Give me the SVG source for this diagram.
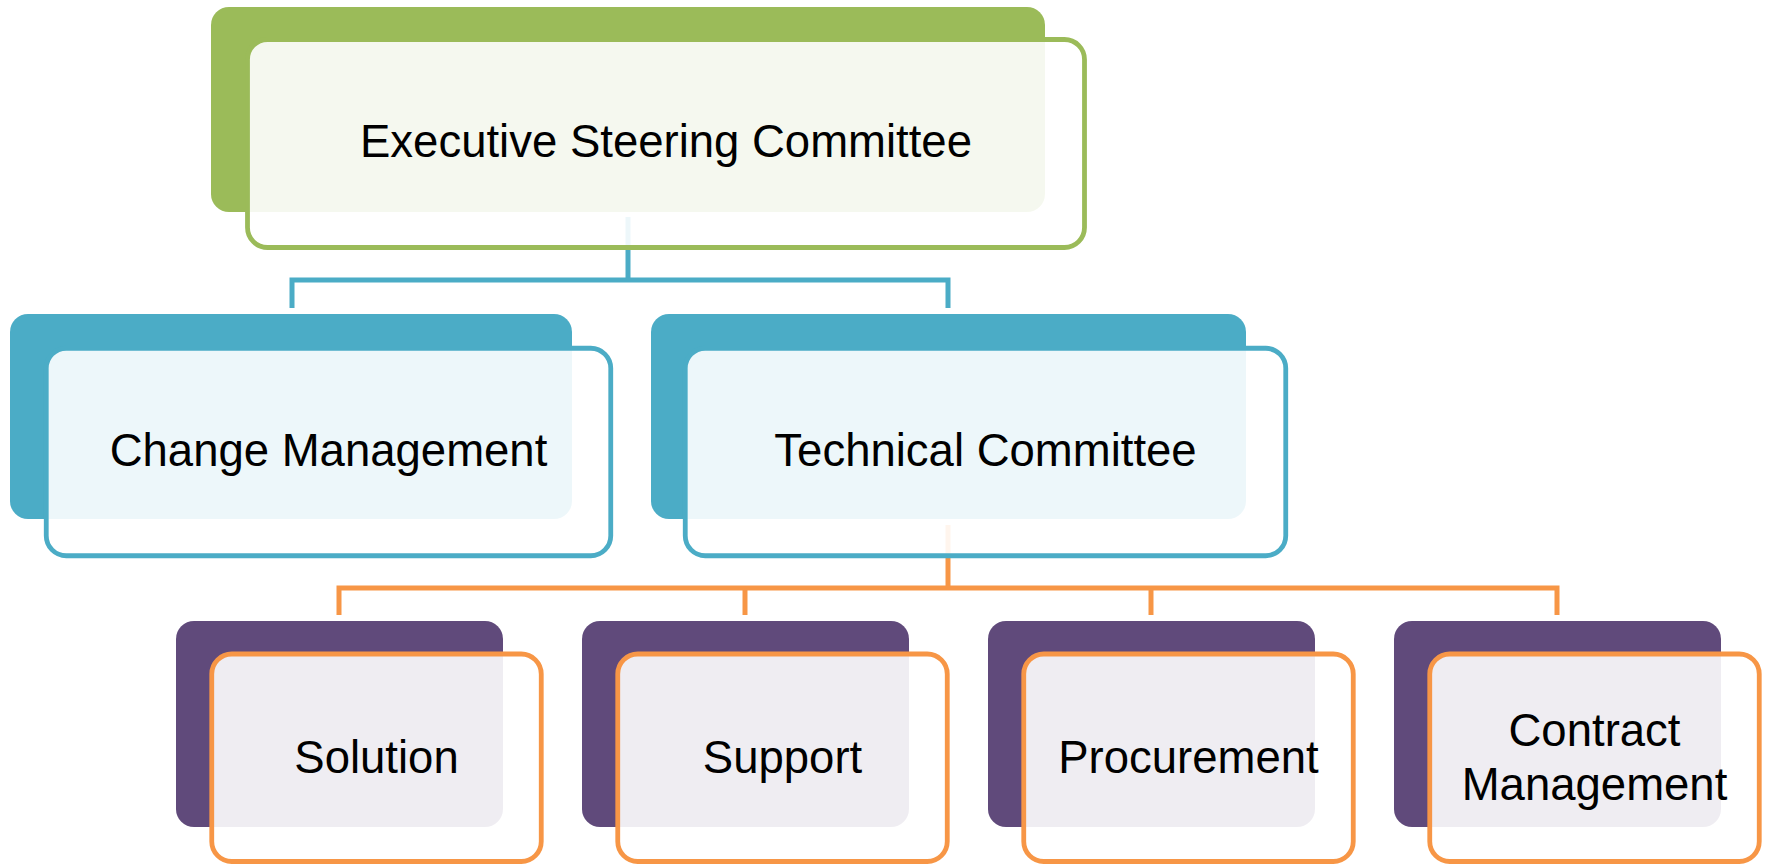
<svg xmlns="http://www.w3.org/2000/svg" width="1767" height="864" viewBox="0 0 1767 864">
  <style>
    .back-g { fill: #9BBB59; }
    .back-b { fill: #4BACC6; }
    .back-p { fill: #604A7B; }
    .front { fill: #FFFFFF; fill-opacity: 0.9; stroke-width: 4.8; }
    .front-g { stroke: #9BBB59; }
    .front-b { stroke: #4BACC6; }
    .front-o { stroke: #F79646; }
    .conn { fill: none; stroke-width: 5; stroke-linejoin: miter; stroke-linecap: butt; }
    .conn-b { stroke: #4BACC6; }
    .conn-o { stroke: #F79646; }
    .label { font-family: "Liberation Sans", Arial, sans-serif; font-size: 45.5px; fill: #000000; text-anchor: middle; }
  </style>
  <rect width="1767" height="864" fill="#FFFFFF"/>
  <g id="connectors">
    <path class="conn conn-b" d="M628,217 V280"/>
    <path class="conn conn-b" d="M292,308 V280 H948 V308"/>
    <path class="conn conn-o" d="M948,525 V588"/>
    <path class="conn conn-o" d="M339,615 V588 H1557 V615"/>
    <path class="conn conn-o" d="M745,588 V615"/>
    <path class="conn conn-o" d="M1151,588 V615"/>
  </g>
  <g id="executive-steering-committee">
    <rect class="back-g" x="211" y="7" width="834" height="205" rx="18"/>
    <rect class="front front-g" x="247.5" y="39.5" width="837" height="208" rx="20"/>
    <text class="label" x="666" y="157">Executive Steering Committee</text>
  </g>
  <g id="change-management">
    <rect class="back-b" x="10" y="314" width="562" height="205" rx="18"/>
    <rect class="front front-b" x="46.25" y="348.25" width="564.5" height="207.5" rx="20"/>
    <text class="label" x="328.5" y="466">Change Management</text>
  </g>
  <g id="technical-committee">
    <rect class="back-b" x="651" y="314" width="595" height="205" rx="18"/>
    <rect class="front front-b" x="685.25" y="348.25" width="600.5" height="207.5" rx="20"/>
    <text class="label" x="985.5" y="466">Technical Committee</text>
  </g>
  <g id="solution">
    <rect class="back-p" x="176" y="621" width="327" height="206" rx="18"/>
    <rect class="front front-o" x="211.75" y="654" width="329.5" height="207.5" rx="20"/>
    <text class="label" x="376.5" y="773">Solution</text>
  </g>
  <g id="support">
    <rect class="back-p" x="582" y="621" width="327" height="206" rx="18"/>
    <rect class="front front-o" x="617.75" y="654" width="329.5" height="207.5" rx="20"/>
    <text class="label" x="782.5" y="773">Support</text>
  </g>
  <g id="procurement">
    <rect class="back-p" x="988" y="621" width="327" height="206" rx="18"/>
    <rect class="front front-o" x="1023.75" y="654" width="329.5" height="207.5" rx="20"/>
    <text class="label" x="1188.5" y="773">Procurement</text>
  </g>
  <g id="contract-management">
    <rect class="back-p" x="1394" y="621" width="327" height="206" rx="18"/>
    <rect class="front front-o" x="1429.75" y="654" width="329.5" height="207.5" rx="20"/>
    <text class="label" x="1594.5" y="746">Contract</text>
    <text class="label" x="1594.5" y="800">Management</text>
  </g>
</svg>
